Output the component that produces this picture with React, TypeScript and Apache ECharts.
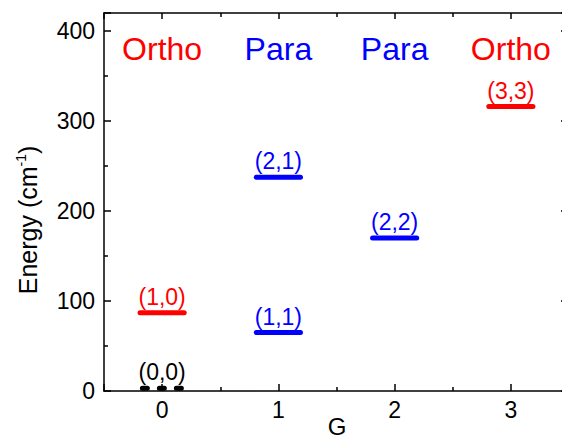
import React, { useEffect, useRef } from "react";
import * as echarts from "echarts";

// ---- data ----
const levelNames = ["(0,0)", "(1,0)", "(1,1)", "(2,1)", "(2,2)", "(3,3)"];
const levelG = [0, 0, 1, 1, 2, 3];
const levelEnergy = [3, 87, 65, 237.5, 170, 316];
const levelKind = ["ground", "ortho", "para", "para", "para", "ortho"];

const headerG = [0, 1, 2, 3];
const headerText = ["Ortho", "Para", "Para", "Ortho"];
const headerKind = ["ortho", "para", "para", "ortho"];
const headerEnergy = 380;

const xTitle = "G";

const kindColor: Record<string, string> = {
  ground: "#000000",
  ortho: "#ff0000",
  para: "#0000ff",
};

const FONT = "'Liberation Sans', Arial, Helvetica, sans-serif";

export default function App() {
  const ref = useRef<HTMLDivElement>(null);
  useEffect(() => {
    if (!ref.current) return;
    const chart = echarts.init(ref.current, undefined, { renderer: "svg" });

    const levelSeries = levelNames.map((name, i) => {
      const dashed = levelKind[i] === "ground";
      const h = dashed ? 0.17 : 0.19;
      return {
        type: "line",
        name,
        xAxisIndex: 0,
        yAxisIndex: 0,
        data: [
          [levelG[i] - h, levelEnergy[i]],
          [levelG[i] + h, levelEnergy[i]],
        ],
        symbol: "none",
        silent: true,
        lineStyle: {
          color: kindColor[levelKind[i]],
          width: 5,
          cap: "round",
          opacity: 1,
          type: dashed ? [5, 12] : "solid",
        },
        z: 3,
      };
    });

    const axisLineStyle = { lineStyle: { color: "#000", width: 1.5 } };

    chart.setOption({
      animation: false,
      textStyle: { fontFamily: FONT },
      grid: {
        left: 104,
        top: 13,
        width: 465,
        height: 378,
        containLabel: false,
        outerBoundsMode: "none",
      },
      xAxis: [
        {
          type: "value",
          min: -0.5,
          max: 3.5,
          splitNumber: 4,
          position: "bottom",
          axisLine: { show: true, onZero: false, ...axisLineStyle },
          axisTick: { show: true, inside: true, length: 7, lineStyle: { color: "#000", width: 1.5 } },
          minorTick: { show: true, splitNumber: 2, length: 4, lineStyle: { color: "#000", width: 1.5 } },
          splitLine: { show: false },
          axisLabel: {
            color: "#000",
            fontSize: 23,
            fontFamily: FONT,
            margin: 7,
            formatter: (v: number) => (Number.isInteger(v) ? String(v) : ""),
          },
        },
        {
          type: "value",
          min: -0.5,
          max: 3.5,
          splitNumber: 4,
          position: "top",
          axisLine: { show: true, onZero: false, ...axisLineStyle },
          axisTick: { show: true, inside: true, length: 6, lineStyle: { color: "#000", width: 1.5 } },
          minorTick: { show: true, splitNumber: 2, length: 4, lineStyle: { color: "#000", width: 1.5 } },
          splitLine: { show: false },
          axisLabel: { show: false },
        },
      ],
      yAxis: [
        {
          type: "value",
          min: 0,
          max: 420,
          interval: 100,
          position: "left",
          axisLine: { show: true, onZero: false, ...axisLineStyle },
          axisTick: { show: true, inside: true, length: 7, lineStyle: { color: "#000", width: 1.5 } },
          minorTick: { show: true, splitNumber: 2, length: 4, lineStyle: { color: "#000", width: 1.5 } },
          splitLine: { show: false },
          axisLabel: {
            color: "#000",
            fontSize: 23,
            fontFamily: FONT,
            margin: 9,
            showMaxLabel: false,
            formatter: (v: number) => (v % 100 === 0 ? String(v) : ""),
          },
        },
        {
          type: "value",
          min: 0,
          max: 420,
          interval: 100,
          position: "right",
          axisLine: { show: true, onZero: false, ...axisLineStyle },
          axisTick: { show: true, inside: true, length: 8, lineStyle: { color: "#000", width: 1.5 } },
          minorTick: { show: true, splitNumber: 2, length: 4, lineStyle: { color: "#000", width: 1.5 } },
          splitLine: { show: false },
          axisLabel: { show: false },
        },
      ],
      graphic: [
        {
          type: "text",
          x: 28,
          y: 220,
          rotation: Math.PI / 2,
          style: {
            text: "{a|Energy (cm}{b|-1}{a|)}",
            align: "center",
            verticalAlign: "middle",
            fill: "#000",
            rich: {
              a: { fontSize: 25, fontFamily: FONT, lineHeight: 29, fill: "#000" },
              b: { fontSize: 14, fontFamily: FONT, lineHeight: 14, verticalAlign: "top", fill: "#000" },
            },
          },
        },
        {
          type: "text",
          x: 337,
          y: 426,
          style: {
            text: xTitle,
            align: "center",
            verticalAlign: "middle",
            fill: "#000",
            fontSize: 24,
            fontFamily: FONT,
          },
        },
      ],
      series: [
        ...levelSeries,
        {
          type: "scatter",
          xAxisIndex: 0,
          yAxisIndex: 0,
          data: levelNames.map((n, i) => ({
            value: [levelG[i], levelEnergy[i]],
            name: n,
            label: { color: kindColor[levelKind[i]] },
          })),
          symbolSize: 0,
          itemStyle: { color: "transparent", opacity: 1 },
          silent: true,
          label: {
            show: true,
            position: "inside",
            offset: [0, -16],
            fontSize: 23,
            fontFamily: FONT,
            opacity: 1,
            formatter: (p: any) => p.name,
          },
          z: 4,
        },
        {
          type: "scatter",
          xAxisIndex: 0,
          yAxisIndex: 0,
          data: headerText.map((t, i) => ({
            value: [headerG[i], headerEnergy],
            name: t,
            label: { color: kindColor[headerKind[i]] },
          })),
          symbolSize: 0,
          itemStyle: { color: "transparent", opacity: 1 },
          silent: true,
          label: {
            show: true,
            position: "inside",
            fontSize: 32,
            fontFamily: FONT,
            opacity: 1,
            formatter: (p: any) => p.name,
          },
          z: 4,
        },
      ],
    });
    return () => chart.dispose();
  }, []);

  return (
    <div
      style={{
        position: "absolute",
        left: 0,
        top: 0,
        width: 562,
        height: 439,
        overflow: "hidden",
        background: "#fff",
      }}
    >
      <div ref={ref} style={{ width: 576, height: 439 }} />
    </div>
  );
}
